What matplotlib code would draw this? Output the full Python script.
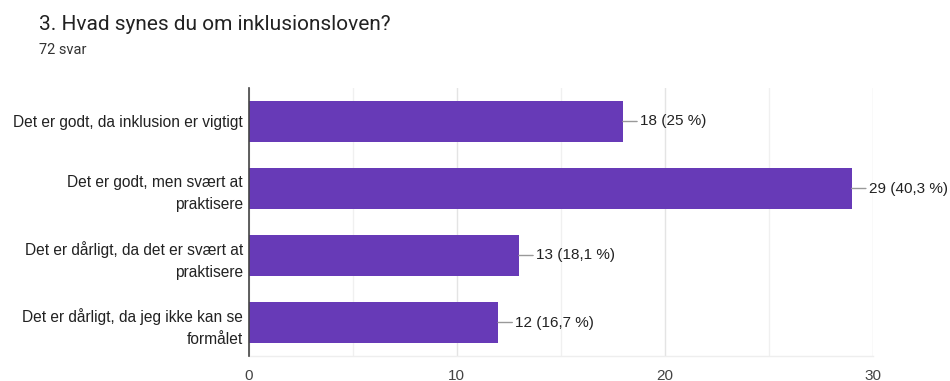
import matplotlib
matplotlib.use("Agg")
import matplotlib.pyplot as plt
from matplotlib.ticker import MultipleLocator

categories = [
    "Det er godt, da inklusion er vigtigt",
    "Det er godt, men svært at\npraktisere",
    "Det er dårligt, da det er svært at\npraktisere",
    "Det er dårligt, da jeg ikke kan se\nformålet",
]
counts = [18, 29, 13, 12]
pct_labels = ["18 (25 %)", "29 (40,3 %)", "13 (18,1 %)", "12 (16,7 %)"]
xticks = [0, 10, 20, 30]

purple = "#673AB7"
fig = plt.figure(figsize=(9.5, 3.81), dpi=100)
ax = fig.add_axes([248.5/950, 1-356/381, (872.5-248.5)/950, (356-88)/381])

ypos = list(range(len(categories)))
ax.barh(ypos, counts, height=0.62, color=purple, zorder=3)
ax.set_ylim(len(categories)-0.5, -0.5)
ax.set_xlim(0, 30)
ax.set_xticks(xticks)
ax.xaxis.set_minor_locator(MultipleLocator(5))
ax.set_yticks(ypos)
ax.set_yticklabels(categories, fontfamily="Liberation Sans", fontsize=11.2, color="#222222",
                   linespacing=1.55)
ax.tick_params(axis="x", labelsize=11, colors="#444444", length=0, pad=9)
ax.tick_params(axis="x", which="minor", length=0)
ax.tick_params(axis="y", length=0, pad=4)
for lbl in ax.get_xticklabels():
    lbl.set_fontfamily("Liberation Sans")
ax.grid(axis="x", which="major", color="#e4e4e4", linewidth=1, zorder=0)
ax.grid(axis="x", which="minor", color="#f0f0f0", linewidth=1, zorder=0)
for s in ["top", "right"]:
    ax.spines[s].set_visible(False)
ax.spines["bottom"].set_color("#eeeeee")
ax.spines["bottom"].set_linewidth(1)
ax.spines["left"].set_color("#444444")
ax.spines["left"].set_linewidth(1.2)
ax.spines["left"].set_zorder(4)

for y, c, t in zip(ypos, counts, pct_labels):
    ax.annotate(t, xy=(c, y), xytext=(17, 0), textcoords="offset pixels",
                va="center", ha="left", fontsize=11, fontfamily="Liberation Sans", color="#222222",
                arrowprops=dict(arrowstyle="-", color="#999999", lw=1, shrinkA=0, shrinkB=0))

fig.text(39/950, 1-25/381, "3. Hvad synes du om inklusionsloven?", fontsize=15, fontfamily="Roboto",
         color="#222222", va="center", ha="left")
fig.text(39/950, 1-50/381, "72 svar", fontsize=10.5, fontfamily="Roboto", color="#333333",
         va="center", ha="left")

fig.savefig("out.png", dpi=100)
